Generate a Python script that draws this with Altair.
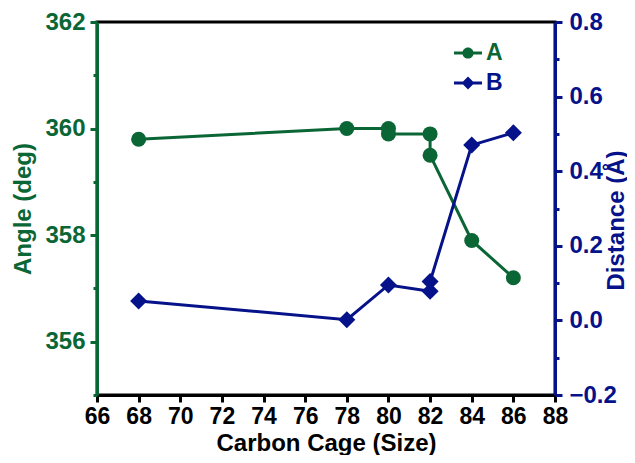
import altair as alt
import pandas as pd

GREEN = "#0B6636"
BLUE = "#06128A"

# Series A: angle (deg)
a_size = [68, 78, 80, 80, 82, 82, 84, 86]
a_angle = [359.8, 360.0, 360.0, 359.9, 359.9, 359.5, 357.9, 357.2]
# Series B: distance (Å)
b_size = [68, 78, 80, 82, 82, 84, 86]
b_dist = [0.052, 0.002, 0.095, 0.078, 0.104, 0.47, 0.503]

x_ticks = list(range(66, 89, 2))
left_ticks = list(range(355, 363))
right_ticks = [round(-0.2 + 0.1 * i, 1) for i in range(11)]

rows = []
for i, (s, v) in enumerate(zip(a_size, a_angle)):
    rows.append({"series": "A", "size": s, "value": v, "ord": i})
for i, (s, v) in enumerate(zip(b_size, b_dist)):
    rows.append({"series": "B", "size": s, "value": v, "ord": i})
df = pd.DataFrame(rows)

FONT = "Liberation Sans"

x_enc = alt.X(
    "size:Q",
    scale=alt.Scale(domain=[66, 88], nice=False, zero=False),
    axis=alt.Axis(
        values=x_ticks, title="Carbon Cage (Size)", grid=False,
        domainColor="black", domainWidth=3, tickColor="black", tickWidth=3,
        tickSize=7, labelColor="black", titleColor="black",
        labelFontSize=23, titleFontSize=24, labelFont=FONT, titleFont=FONT,
        labelFontWeight="bold", titleFontWeight="bold", labelPadding=3,
        titleY=55, titleBaseline="alphabetic", labelFlush=False,
    ),
)

# legend symbols: line with marker, as filled paths
circ_path = ("M-1,-0.11H1V0.11H-1Z"
             "M-0.4,0A0.4,0.4,0,1,1,0.4,0A0.4,0.4,0,1,1,-0.4,0Z")
diam_path = ("M-1,-0.11H1V0.11H-1Z"
             "M0,-0.46L0.46,0L0,0.46L-0.46,0Z")


def make_legend(color, y):
    return alt.Legend(
        title=None, orient="none", legendX=357, legendY=y, padding=0,
        symbolSize=784, labelFontSize=23, labelFont=FONT,
        labelFontWeight="bold", labelOffset=4, labelColor=color,
        symbolFillColor=color, symbolStrokeWidth=0, symbolOpacity=1,
    )


left_axis = alt.Axis(
    orient="left", values=left_ticks, title="Angle (deg)", grid=False,
    labelExpr="datum.value % 2 == 0 ? datum.label : ''",
    domainColor=GREEN, domainWidth=3, tickColor=GREEN, tickWidth=3,
    tickSize={"condition": {"test": "datum.value % 2 != 0", "value": 4}, "value": 7},
    labelColor=GREEN, titleColor=GREEN, labelFontSize=24, titleFontSize=24,
    labelFont=FONT, titleFont=FONT, labelFontWeight="bold", titleFontWeight="bold",
    labelPadding=5, titlePadding=9,
)

right_axis = alt.Axis(
    orient="right", values=right_ticks, title="Distance (Å)", grid=False,
    format=".1f",
    labelExpr="abs(round(datum.value*10)) % 2 == 0 ? datum.label : ''",
    domainColor=BLUE, domainWidth=3, tickColor=BLUE, tickWidth=3,
    tickSize={"condition": {"test": "abs(round(datum.value*10)) % 2 != 0", "value": 4}, "value": 7},
    labelColor=BLUE, titleColor=BLUE, labelFontSize=24, titleFontSize=24,
    labelFont=FONT, titleFont=FONT, labelFontWeight="bold", titleFontWeight="bold",
    labelPadding=7, titleAngle=270, titleBaseline="top", titleX=49, titleY=198,
)

base_a = alt.Chart(df).transform_filter("datum.series == 'A'")
base_b = alt.Chart(df).transform_filter("datum.series == 'B'")

ya = alt.Y("value:Q", scale=alt.Scale(domain=[355, 362], nice=False, zero=False), axis=left_axis)
yb = alt.Y("value:Q", scale=alt.Scale(domain=[-0.2, 0.8], nice=False, zero=False), axis=right_axis)

line_a = base_a.mark_line(strokeWidth=3, color=GREEN).encode(x=x_enc, y=ya, order="ord:Q")
pts_a = base_a.mark_point(shape="circle", filled=True, size=225, opacity=1, color=GREEN).encode(x=x_enc, y=ya)
leg_a = base_a.mark_point(filled=True, opacity=0, color=GREEN).encode(
    shape=alt.Shape("series:N", scale=alt.Scale(domain=["A"], range=[circ_path]),
                    legend=make_legend(GREEN, 17)),
)
layer_a = alt.layer(line_a, pts_a, leg_a)

line_b = base_b.mark_line(strokeWidth=3, color=BLUE).encode(x=x_enc, y=yb, order="ord:Q")
pts_b = base_b.mark_point(shape="diamond", filled=True, size=290, opacity=1, color=BLUE).encode(x=x_enc, y=yb)
leg_b = base_b.mark_point(filled=True, opacity=0, color=BLUE).encode(
    shape=alt.Shape("series:N", scale=alt.Scale(domain=["B"], range=[diam_path]),
                    legend=make_legend(BLUE, 47)),
)
layer_b = alt.layer(line_b, pts_b, leg_b)

chart = alt.layer(layer_a, layer_b).resolve_scale(
    y="independent", shape="independent"
).properties(
    width=458, height=373,
    autosize=alt.AutoSizeParams(type="none"),
    padding={"left": 89, "top": 14, "right": 72, "bottom": 60},
    background="white",
).configure_view(stroke="black", strokeWidth=3)

chart.save("out.html", embed_options={"renderer": "svg", "actions": False})
